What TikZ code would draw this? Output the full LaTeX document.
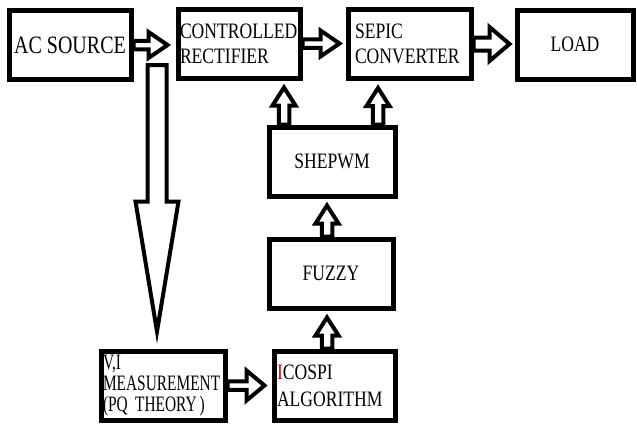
\documentclass[tikz,border=0pt]{standalone}
\usepackage{fontspec}
\setmainfont{Liberation Serif}[FakeStretch=0.8]
\newfontfamily\narrowserif{Liberation Serif}[FakeStretch=0.7]
\usetikzlibrary{calc,backgrounds}
\definecolor{icored}{rgb}{0.75,0.05,0.05}
\tikzstyle{block}=[draw,line width=5pt,minimum height=69pt,inner sep=0pt,font=\fontsize{22}{25}\selectfont]
\tikzstyle{blockline}=[draw,fill=white,line width=4pt,line join=miter]
\newcommand{\blockarrow}[5]{%
  \coordinate (ba-s) at #1;
  \coordinate (ba-t) at #2;
  \coordinate (ba-h) at ($(ba-t)!#5!(ba-s)$);
  \draw [blockline] ($(ba-s)!#3!90:(ba-t)$) -- ($(ba-h)!#3!90:(ba-t)$) -- ($(ba-h)!#4!90:(ba-t)$)
    -- (ba-t) -- ($(ba-h)!#4!-90:(ba-t)$) -- ($(ba-h)!#3!-90:(ba-t)$) -- ($(ba-s)!#3!-90:(ba-t)$) -- cycle;}
\begin{document}
\begin{tikzpicture}[x=1pt,y=-1pt]
                  \useasboundingbox (0,0) rectangle (637,423);

                  \node (ac) at (70,45) [block,minimum width=122pt,font=\fontsize{25}{28}\selectfont] {AC SOURCE};
                  \node (rect) at (239,43.5) [block,text width=118pt,inner xsep=2pt,align=left] {CONTROLLED\\RECTIFIER};
                  \node (sepic) at (409.5,44) [block,text width=109pt,inner xsep=7pt,align=left] {SEPIC\\CONVERTER};
                  \node (load) at (575,44.5) [block,minimum width=116pt] {LOAD};

                  \node (shepwm) at (332,161.5) [block,minimum width=126pt] {SHEPWM};
                  \node (fuzzy) at (331,273.5) [block,minimum width=124pt] {FUZZY};

                  \node (vi) at (163,385.5) [block,text width=120pt,inner xsep=2pt,align=left,font=\narrowserif\fontsize{22}{21}\selectfont] {V,I\\MEASUREMENT\\(PQ THEORY\hspace{3pt})};
                  \node (ico) at (334.5,385.5) [block,text width=115pt,inner xsep=3pt,align=left,font=\fontsize{22}{27}\selectfont] {\textcolor{icored}{I}COSPI\\ALGORITHM};

                  \begin{scope}[on background layer]
                  \coordinate (tap) at (157,65);
                  \coordinate (sh1) at ([xshift=-48pt]shepwm.north);
                  \coordinate (sh2) at ([xshift=46pt]shepwm.north);
                  \coordinate (fz) at ([xshift=-4pt]fuzzy.north);
                  \coordinate (ic) at (fz |- ico.north);

                  \blockarrow{(ac.east)}{($(ac.east -| rect.west)+(-8pt,0)$)}{4.25pt}{13pt}{19pt}
                  \blockarrow{(rect.east)}{($(rect.east -| sepic.west)+(-6pt,0)$)}{4.25pt}{13pt}{19pt}
                  \blockarrow{(sepic.east)}{($(sepic.east -| load.west)+(-5pt,0)$)}{6.5pt}{17pt}{20pt}
                  \blockarrow{(tap)}{($(tap |- vi.north)+(0,17pt)$)}{9.5pt}{21.5pt}{130pt}
                  \blockarrow{(vi.east)}{($(vi.east -| ico.west)+(-7pt,0)$)}{4.25pt}{15pt}{18pt}

                  \blockarrow{(sh1)}{($(sh1 |- rect.south)+(0,-7pt)$)}{5.25pt}{11.5pt}{18pt}
                  \blockarrow{(sh2)}{($(sh2 |- sepic.south)+(0,-7pt)$)}{5.25pt}{11.5pt}{18pt}
                  \blockarrow{(fz)}{($(fz |- shepwm.south)+(0,-7pt)$)}{5.25pt}{11.5pt}{18pt}
                  \blockarrow{(ic)}{($(fz |- fuzzy.south)+(0,-7pt)$)}{5.25pt}{11.5pt}{18pt}
                  \end{scope}
              \end{tikzpicture}
\end{document}
